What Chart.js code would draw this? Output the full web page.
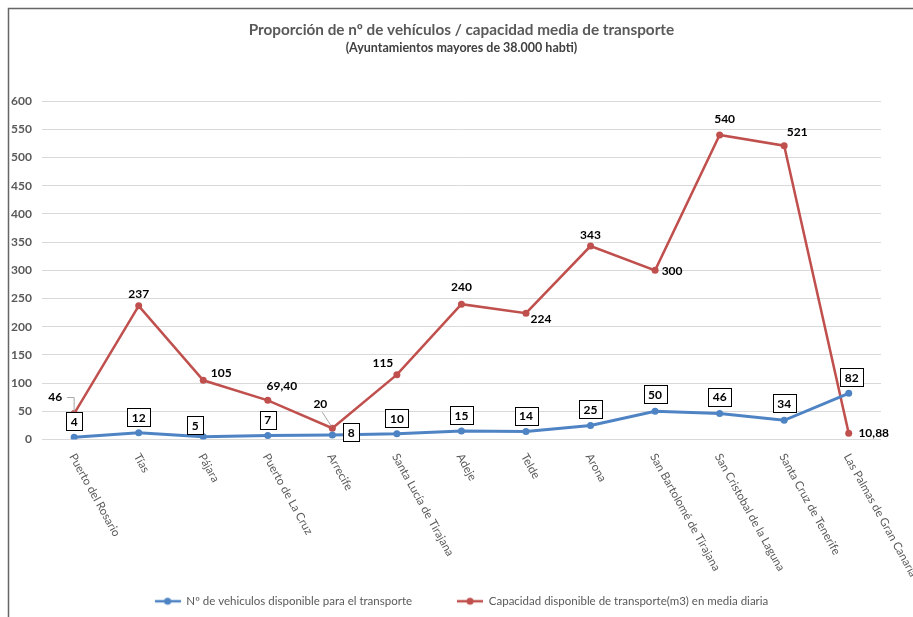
<!DOCTYPE html>
<html><head><meta charset="utf-8">
<script src="https://cdn.jsdelivr.net/npm/chart.js@4.4.0/dist/chart.umd.min.js"></script>
<style>html,body{margin:0;padding:0;background:#fff;overflow:hidden}canvas{display:block}</style>
</head><body>
<canvas id="c" width="913" height="617"></canvas>
<script>
// ---- data ----
const categories = ["Puerto del Rosario","Tías","Pájara","Puerto de La Cruz","Arrecife","Santa Lucía de Tirajana","Adeje","Telde","Arona","San Bartolomé de Tirajana","San Cristobal de la Laguna","Santa Cruz de Tenerife","Las Palmas de Gran Canaria"];
const vehiculos = [4, 12, 5, 7, 8, 10, 15, 14, 25, 50, 46, 34, 82];
const capacidad = [46, 237, 105, 69.40, 20, 115, 240, 224, 343, 300, 540, 521, 10.88];
const yTicks = [0, 50, 100, 150, 200, 250, 300, 350, 400, 450, 500, 550, 600];
const seriesNames = ["Nº de vehiculos disponible para el transporte", "Capacidad disponible de transporte(m3) en media diaria"];
const titleText = "Proporción de nº de vehículos / capacidad media de transporte";
const subtitleText = "(Ayuntamientos mayores de 38.000 habti)";

// ---- styles ----
const BLUE = "#4f84c4", RED = "#c0504d", GRAY = "#595959";
const FONT = "Lato, 'Open Sans', sans-serif";
// label placement offsets (px) relative to each point
const blueLabelOffset = [[0,-16],[0,-16],[-8,-12],[0,-16],[19,-3],[0,-16],[0,-16],[0,-16],[0,-16],[0,-17],[0,-17],[0,-17],[3,-16]];
const redLabelOffset = [[-19,-16],[0,-12],[18,-7],[14,-14],[-12,-24],[-14,-12],[0,-17],[15,6],[0,-11],[17,1],[5,-16],[13,-14],[25,0]];
const redLeader = {0: true, 4: true};

function fmt(v){ return Number.isInteger(v) ? String(v) : v.toFixed(2).replace('.', ','); }

function marker(color, lw){
  const c = document.createElement('canvas'); c.width = 26; c.height = 10;
  const g = c.getContext('2d');
  g.strokeStyle = color; g.lineWidth = lw;
  g.beginPath(); g.moveTo(0,5); g.lineTo(26,5); g.stroke();
  g.fillStyle = color; g.beginPath(); g.arc(13,5,3.5,0,Math.PI*2); g.fill();
  return c;
}
const markers = [marker(BLUE,2.5), marker(RED,2.5)];

const framePlugin = {
  id: 'frame',
  beforeDraw(chart){
    const ctx = chart.ctx;
    ctx.save();
    ctx.fillStyle = '#fff'; ctx.fillRect(0,0,chart.width,chart.height);
    ctx.strokeStyle = '#666'; ctx.lineWidth = 1.5;
    ctx.beginPath(); ctx.moveTo(8.5, chart.height); ctx.lineTo(8.5, 8.5); ctx.lineTo(chart.width, 8.5); ctx.stroke();
    ctx.restore();
  }
};

const labelsPlugin = {
  id: 'labels',
  afterDraw(chart){
    const ctx = chart.ctx;
    const xs = chart.scales.x;
    // category labels, rotated clockwise
    ctx.save();
    ctx.fillStyle = GRAY;
    ctx.font = "11.5px " + FONT;
    ctx.textAlign = 'left'; ctx.textBaseline = 'middle';
    categories.forEach((lab, i) => {
      const x = xs.getPixelForTick(i);
      ctx.save();
      ctx.translate(x - 2, xs.top + 15);
      ctx.rotate(61 * Math.PI / 180);
      ctx.fillText(lab, 0, 0);
      ctx.restore();
    });
    ctx.restore();

    // red labels
    const mr = chart.getDatasetMeta(1).data;
    ctx.save();
    ctx.font = "bold 12px " + FONT;
    ctx.fillStyle = '#000'; ctx.textAlign = 'center'; ctx.textBaseline = 'middle';
    mr.forEach((p, i) => {
      const [dx, dy] = redLabelOffset[i];
      const t = fmt(capacidad[i]);
      const lx = p.x + dx, ly = p.y + dy;
      if (redLeader[i]) {
        ctx.save(); ctx.strokeStyle = '#a6a6a6'; ctx.lineWidth = 1;
        ctx.beginPath();
        if (i === 0) { ctx.moveTo(lx + 12, ly); ctx.lineTo(p.x, ly); ctx.lineTo(p.x, p.y - 2); }
        else { ctx.moveTo(lx + 2, ly + 8); ctx.lineTo(p.x - 1, p.y - 2); }
        ctx.stroke(); ctx.restore();
      }
      ctx.fillText(t, lx, ly);
    });
    ctx.restore();

    // blue labels (boxed)
    const mb = chart.getDatasetMeta(0).data;
    ctx.save();
    ctx.font = "bold 12px " + FONT;
    ctx.textAlign = 'center'; ctx.textBaseline = 'middle';
    mb.forEach((p, i) => {
      const [dx, dy] = blueLabelOffset[i];
      const t = fmt(vehiculos[i]);
      const lx = p.x + dx, ly = p.y + dy;
      const w = ctx.measureText(t).width + 9, h = 18;
      ctx.fillStyle = '#fff';
      ctx.fillRect(Math.round(lx - w/2) + 0.5, Math.round(ly - h/2) + 0.5, Math.round(w), h);
      ctx.strokeStyle = '#000'; ctx.lineWidth = 1;
      ctx.strokeRect(Math.round(lx - w/2) + 0.5, Math.round(ly - h/2) + 0.5, Math.round(w), h);
      ctx.fillStyle = '#000';
      ctx.fillText(t, lx, ly + 1);
    });
    ctx.restore();
  }
};

new Chart(document.getElementById('c'), {
  type: 'line',
  data: {
    labels: categories,
    datasets: [
      { label: seriesNames[0], data: vehiculos, borderColor: BLUE, backgroundColor: BLUE, borderWidth: 3, pointRadius: 3.5, pointBackgroundColor: BLUE, pointBorderWidth: 0, tension: 0 },
      { label: seriesNames[1], data: capacidad, borderColor: RED, backgroundColor: RED, borderWidth: 2.5, pointRadius: 3.5, pointBackgroundColor: RED, pointBorderWidth: 0, tension: 0 }
    ]
  },
  options: {
    responsive: false,
    animation: false,
    events: [],
    layout: { padding: { left: 1, right: 32, top: 0, bottom: 0 } },
    plugins: {
      title: { display: true, fullSize: false, text: titleText, color: GRAY, font: { family: FONT, size: 15.3, weight: 'bold' }, padding: { top: 21, bottom: 0 } },
      subtitle: { display: true, fullSize: false, text: subtitleText, color: '#404040', font: { family: FONT, size: 12.5, weight: 'bold' }, padding: { top: 1, bottom: 45.8 } },
      legend: {
        position: 'bottom', fullSize: false,
        labels: {
          usePointStyle: true, pointStyleWidth: 26, boxHeight: 10, padding: 45,
          color: GRAY, font: { family: FONT, size: 11.5 },
          generateLabels(chart){
            const items = Chart.defaults.plugins.legend.labels.generateLabels(chart);
            items.forEach((it, i) => { it.pointStyle = markers[i]; });
            return items;
          }
        }
      },
      tooltip: { enabled: false }
    },
    scales: {
      x: {
        type: 'category', offset: true,
        grid: { display: false }, border: { display: false },
        ticks: { display: false },
        afterFit(scale){ scale.height = 111; }
      },
      y: {
        min: 0, max: 600,
        afterBuildTicks(scale){ scale.ticks = yTicks.map(v => ({ value: v })); },
        ticks: { color: GRAY, font: { family: FONT, size: 12, weight: 'bold' }, padding: 10 },
        grid: { color: '#d9d9d9', drawTicks: false, lineWidth: 1 },
        border: { display: false }
      }
    }
  },
  plugins: [framePlugin, labelsPlugin]
});
</script>
</body></html>
